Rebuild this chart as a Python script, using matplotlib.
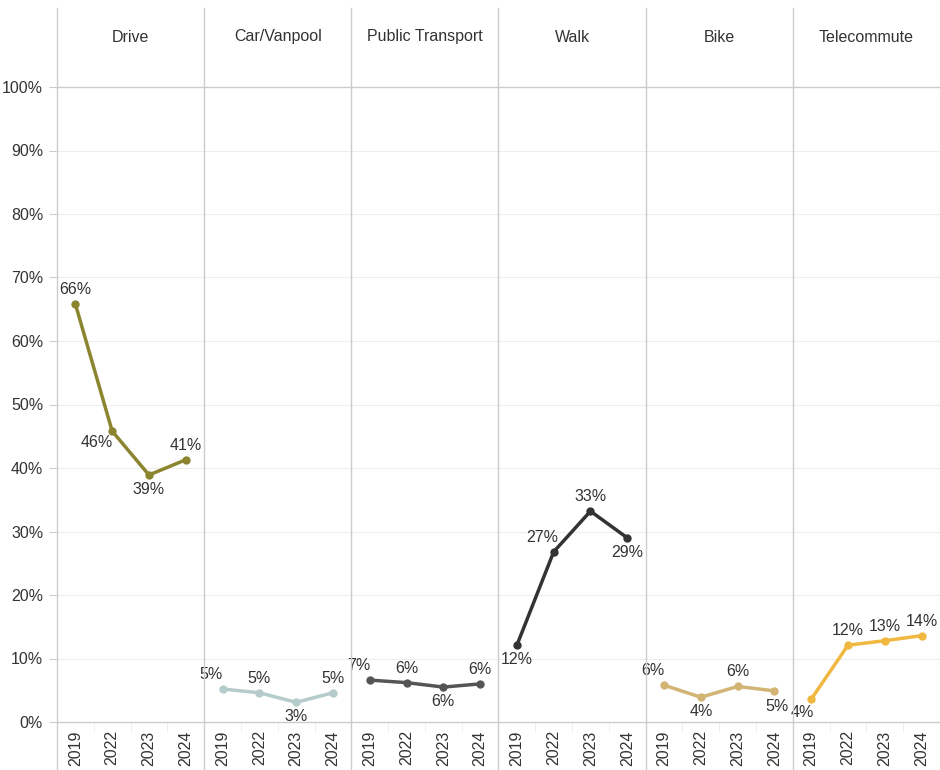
import matplotlib.pyplot as plt
from matplotlib.lines import Line2D

plt.rcParams['font.family'] = ['Liberation Sans', 'DejaVu Sans']

years = ['2019', '2022', '2023', '2024']
modes = ['Drive', 'Car/Vanpool', 'Public Transport', 'Walk', 'Bike', 'Telecommute']

drive = [65.8, 45.8, 38.9, 41.3]
carpool = [5.2, 4.6, 3.1, 4.6]
transit = [6.6, 6.2, 5.5, 6.0]
walk = [12.1, 26.8, 33.2, 29.0]
bike = [5.8, 3.9, 5.6, 4.9]
telecommute = [3.6, 12.1, 12.8, 13.6]

series = [drive, carpool, transit, walk, bike, telecommute]
colors = ['#8c8530', '#b5cbcc', '#555555', '#333333', '#d2b574', '#f0b840']

# where each value label sits relative to its point
placement = [
    ['a', 'bl', 'b', 'a'],
    ['al', 'a', 'b', 'a'],
    ['al', 'a', 'b', 'a'],
    ['b', 'al', 'a', 'b'],
    ['al', 'b', 'a', 'br'],
    ['bl2', 'a', 'a', 'a'],
]
offsets = {'a': (0, 5, 'center', 'bottom'), 'b': (0, -5, 'center', 'top'),
           'al': (-8, 5, 'center', 'bottom'), 'bl': (-11, -3, 'center', 'top'),
           'bl2': (-6.5, -4, 'center', 'top'), 'br': (2, -6, 'center', 'top')}

W, H = 940, 770
fig = plt.figure(figsize=(9.4, 7.7), dpi=100)

left_px, right_px = 57, 940
top_px, bottom_px = 87, 722
panel_w = (right_px - left_px) / len(modes)
txt = '#333333'
line_c = '#cccccc'
fs = 11.5

for i, mode in enumerate(modes):
    x0 = left_px + i * panel_w
    ax = fig.add_axes([x0 / W, 1 - bottom_px / H, panel_w / W, (bottom_px - top_px) / H])
    ax.set_xlim(-0.5, 3.5)
    ax.set_ylim(0, 100)
    for s in ax.spines.values():
        s.set_visible(False)
    for g in range(10, 100, 10):
        ax.axhline(g, color='#eeeeee', lw=0.8, zorder=0)
    xs = list(range(len(years)))
    ax.plot(xs, series[i], color=colors[i], lw=2.5, marker='o', ms=5, clip_on=False, zorder=3)
    for j, v in enumerate(series[i]):
        dx, dy, ha, va = offsets[placement[i][j]]
        ax.annotate(f'{v:.0f}%', (j, v), xytext=(dx, dy), textcoords='offset points',
                    ha=ha, va=va, fontsize=fs, color=txt)
    ax.set_xticks(xs)
    ax.set_xticklabels(years, rotation=90, fontsize=fs, color=txt)
    ax.set_xticks([0.5, 1.5, 2.5], minor=True)
    ax.tick_params(axis='x', which='major', length=0, pad=6)
    ax.tick_params(axis='x', which='minor', length=7, color='#eeeeee')
    if i == 0:
        ax.set_yticks(range(0, 101, 10))
        ax.set_yticklabels([f'{t}%' for t in range(0, 101, 10)], fontsize=fs, color=txt)
        ax.tick_params(axis='y', length=6, color=line_c, pad=4)
    else:
        ax.set_yticks([])
    fig.text((x0 + panel_w / 2) / W, 1 - 37 / H, mode, ha='center', va='center',
             fontsize=fs, color=txt)

# panel borders, header line and baseline
for i in range(len(modes)):
    xf = (left_px + i * panel_w) / W
    fig.add_artist(Line2D([xf, xf], [0, 1 - 8 / H], color=line_c, lw=1))
fig.add_artist(Line2D([left_px / W, 1], [1 - top_px / H] * 2, color=line_c, lw=1))
fig.add_artist(Line2D([left_px / W, 1], [1 - bottom_px / H] * 2, color=line_c, lw=1))

fig.savefig('out.png', dpi=100, facecolor='white')
